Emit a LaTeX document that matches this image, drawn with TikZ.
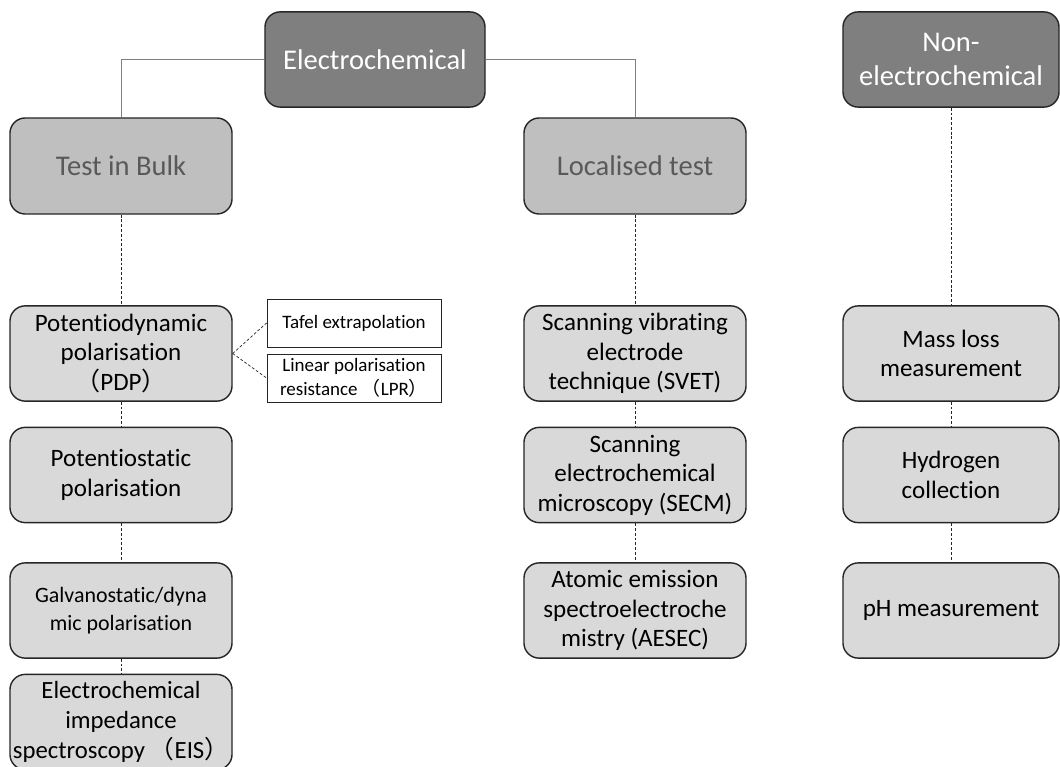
\documentclass[tikz,border=0pt]{standalone}
\usepackage{fontspec}
\setmainfont{Carlito}[Ligatures=NoCommon]
\newfontfamily\cjk{Noto Sans CJK SC}
\newcommand{\lp}{{\cjk （}}
\newcommand{\rp}{{\cjk ）}}
\definecolor{darkbox}{HTML}{7F7F7F}
\definecolor{midbox}{HTML}{BFBFBF}
\definecolor{lightbox}{HTML}{D9D9D9}
\definecolor{midtext}{HTML}{595959}
\definecolor{edge}{HTML}{262626}
\tikzset{
  topbox/.style={draw=edge,line width=1pt,rounded corners=0.38cm,fill=darkbox,text=white,
    align=center,minimum width=5.5cm,minimum height=2.38cm,font=\fontsize{20.3}{24.5}\selectfont},
  groupbox/.style={topbox,fill=midbox,text=midtext,minimum width=5.55cm,minimum height=2.4cm},
  leafbox/.style={draw=edge,line width=1pt,rounded corners=0.38cm,fill=lightbox,text=black,
    align=center,minimum width=5.55cm,minimum height=2.38cm,inner sep=0pt,
    font=\fontsize{17.8}{21}\selectfont},
  sidebox/.style={draw=edge,line width=0.6pt,fill=white,align=center,minimum width=4.35cm,
    minimum height=1.2cm,inner sep=0pt,font=\fontsize{13.5}{17.5}\selectfont},
  solidlink/.style={draw=darkbox,line width=0.7pt},
  dashlink/.style={draw=edge,line width=0.5pt,dash pattern=on 2pt off 1.4pt}
}
\begin{document}
\begin{tikzpicture}[x=0.025cm,y=-0.025cm]
  \useasboundingbox (0,0) rectangle (1060,767);
  % top level
  \node[topbox] (elec) at (375,59.5) {Electrochemical};
  \node[topbox,minimum width=5.4cm] (nonel) at (951,59.5) {Non-\\electrochemical};
  % second level
  \node[groupbox] (bulk) at (121,166) {Test in Bulk};
  \node[groupbox] (local) at (635,166) {Localised test};
  % bulk methods
  \node[leafbox] (pdp) at (121,353.5) {Potentiodynamic\\polarisation\\\lp PDP\rp};
  \node[leafbox] (pstat) at (121,475) {Potentiostatic\\polarisation};
  \node[leafbox,font=\fontsize{15.6}{19.5}\selectfont] (galv) at (121,610.5) {Galvanostatic/dyna\\mic polarisation};
  \node[leafbox,font=\fontsize{17.6}{21.3}\selectfont] (eis) at (121,722) {Electrochemical\\impedance\\spectroscopy\hspace{0.2em}\lp EIS\rp};
  \node[sidebox] (tafel) at (354,323) {Tafel extrapolation};
  \node[sidebox] (lpr) at (354,378) {Linear polarisation\\resistance\ \lp LPR\rp};
  % localised methods
  \node[leafbox] (svet) at (635,353.5) {Scanning vibrating\\electrode\\technique (SVET)};
  \node[leafbox] (secm) at (635,475) {Scanning\\electrochemical\\microscopy (SECM)};
  \node[leafbox] (aesec) at (635,610.5) {Atomic emission\\spectroelectroche\\mistry (AESEC)};
  % non-electrochemical methods
  \node[leafbox,minimum width=5.4cm] (mass) at (951,353.5) {Mass loss\\measurement};
  \node[leafbox,minimum width=5.4cm] (hydro) at (951,475) {Hydrogen\\collection};
  \node[leafbox,minimum width=5.4cm] (ph) at (951,610.5) {pH measurement};

  \draw[solidlink] (elec.west) -| (bulk.north);
  \draw[solidlink] (elec.east) -| (local.north);
  \draw[dashlink] (bulk) -- (pdp);
  \draw[dashlink] (pdp) -- (pstat);
  \draw[dashlink] (pstat) -- (galv);
  \draw[dashlink] (galv) -- (eis);
  \draw[dashlink] (pdp.east) -- (tafel.west);
  \draw[dashlink] (pdp.east) -- (lpr.west);
  \draw[dashlink] (local) -- (svet);
  \draw[dashlink] (svet) -- (secm);
  \draw[dashlink] (secm) -- (aesec);
  \draw[dashlink] (nonel) -- (mass);
  \draw[dashlink] (mass) -- (hydro);
  \draw[dashlink] (hydro) -- (ph);
\end{tikzpicture}
\end{document}
